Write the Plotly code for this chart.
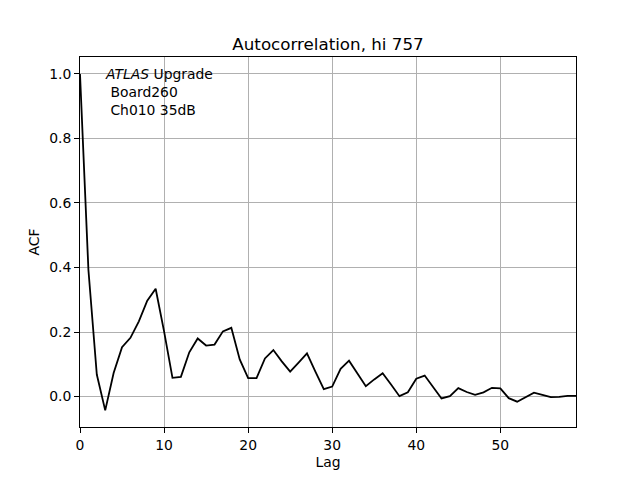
import plotly.graph_objects as go

lags = list(range(60))
acf = [1.0, 0.393, 0.068, -0.043, 0.073, 0.153, 0.182, 0.233, 0.297, 0.334,
       0.202, 0.058, 0.061, 0.137, 0.180, 0.158, 0.161, 0.202, 0.213, 0.115,
       0.057, 0.057, 0.118, 0.144, 0.109, 0.077, 0.105, 0.134, 0.077, 0.023,
       0.031, 0.086, 0.111, 0.071, 0.032, 0.053, 0.072, 0.037, 0.001, 0.013,
       0.055, 0.065, 0.030, -0.006, 0.001, 0.026, 0.014, 0.005, 0.013, 0.027,
       0.025, -0.005, -0.016, -0.002, 0.012, 0.005, -0.002, -0.001, 0.002, 0.002]

x_ticks = [0, 10, 20, 30, 40, 50]
y_ticks = [0.0, 0.2, 0.4, 0.6, 0.8, 1.0]

title = "Autocorrelation, hi 757"
label_lines = ["<i>ATLAS</i> Upgrade", " Board260", " Ch010 35dB"]

font = "DejaVu Sans"

fig = go.Figure()
fig.add_trace(go.Scatter(x=lags, y=acf, mode="lines",
                         line=dict(color="black", width=1.8), showlegend=False))

fig.update_layout(
    width=640, height=480,
    margin=dict(l=80, r=64, t=57, b=53, autoexpand=False),
    paper_bgcolor="white", plot_bgcolor="white",
    font=dict(family=font, size=13.9, color="black"),
    title=dict(text=title, xref="paper", x=0.5, xanchor="center", y=1 - 44 / 480, yanchor="middle",
               font=dict(size=16.7, family=font, color="black")),
)
fig.update_xaxes(range=[0, 59], tickvals=x_ticks, ticktext=[str(v) for v in x_ticks],
                 showgrid=True, gridcolor="#b0b0b0", gridwidth=0.8,
                 showline=True, linecolor="black", linewidth=1, mirror=True,
                 ticks="outside", ticklen=5, tickcolor="black",
                 zeroline=False, automargin=False,
                 title=dict(text="Lag", font=dict(size=13.9), standoff=5),
                 tickfont=dict(size=13.9))
fig.update_yaxes(range=[-0.0945, 1.0525], tickvals=y_ticks,
                 ticktext=[f"{v:.1f}" for v in y_ticks],
                 showgrid=True, gridcolor="#b0b0b0", gridwidth=0.8,
                 showline=True, linecolor="black", linewidth=1, mirror=True,
                 ticks="outside", ticklen=5, tickcolor="black",
                 zeroline=False, automargin=False,
                 title=dict(text="ACF", font=dict(size=13.9), standoff=6),
                 tickfont=dict(size=13.9))

fig.add_annotation(text="<br>".join(label_lines), xref="paper", yref="paper",
                   x=(103 - 80) / 496, y=1 - (64 - 57) / 370, xanchor="left", yanchor="top",
                   align="left", showarrow=False, font=dict(size=13.9, family=font, color="black"))

fig.write_html("out.html", config={"displayModeBar": False},
               post_script="document.body.style.margin='0';")
